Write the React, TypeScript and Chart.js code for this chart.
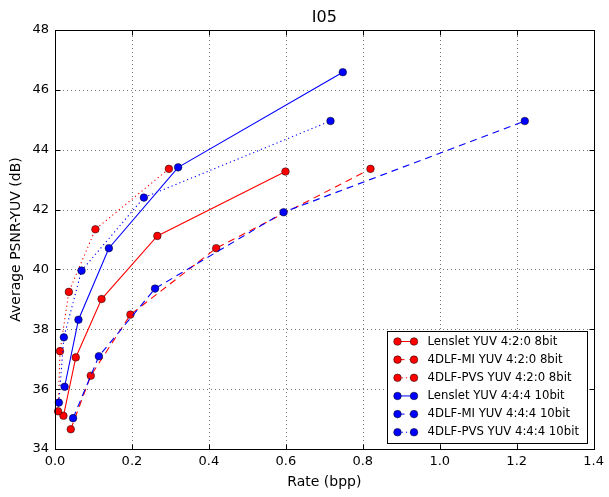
import React, { useEffect, useRef } from "react";
import { Chart, registerables } from "chart.js";

Chart.register(...registerables);

const FONT = "'DejaVu Sans', 'Noto Sans', sans-serif";

const chartTitle = "I05";
const xAxisTitle = "Rate (bpp)";
const yAxisTitle = "Average PSNR-YUV (dB)";

const xTicks = [0, 0.2, 0.4, 0.6, 0.8, 1.0, 1.2, 1.4];
const yTicks = [34, 36, 38, 40, 42, 44, 46, 48];

const seriesLabels = [
  "Lenslet YUV 4:2:0 8bit",
  "4DLF-MI YUV 4:2:0 8bit",
  "4DLF-PVS YUV 4:2:0 8bit",
  "Lenslet YUV 4:4:4 10bit",
  "4DLF-MI YUV 4:4:4 10bit",
  "4DLF-PVS YUV 4:4:4 10bit",
];

const lensletRate420 = [0.022, 0.054, 0.121, 0.266, 0.599];
const lensletPsnr420 = [35.11, 37.06, 39.01, 41.12, 43.27];
const miRate420 = [0.041, 0.093, 0.196, 0.419, 0.82];
const miPsnr420 = [34.66, 36.45, 38.49, 40.71, 43.36];
const pvsRate420 = [0.008, 0.013, 0.036, 0.105, 0.296];
const pvsPsnr420 = [35.26, 37.27, 39.25, 41.34, 43.36];
const lensletRate444 = [0.025, 0.061, 0.14, 0.32, 0.748];
const lensletPsnr444 = [36.08, 38.32, 40.71, 43.41, 46.59];
const miRate444 = [0.047, 0.114, 0.26, 0.594, 1.221];
const miPsnr444 = [35.03, 37.1, 39.36, 41.91, 44.96];
const pvsRate444 = [0.01, 0.023, 0.069, 0.231, 0.716];
const pvsPsnr444 = [35.55, 37.73, 39.96, 42.4, 44.96];

const RED = "#ff0000";
const BLUE = "#0000ff";
const SOLID: number[] = [];
const DASHED = [7, 5];
const DOTTED = [1.2, 3];

const seriesRates = [lensletRate420, miRate420, pvsRate420, lensletRate444, miRate444, pvsRate444];
const seriesPsnr = [lensletPsnr420, miPsnr420, pvsPsnr420, lensletPsnr444, miPsnr444, pvsPsnr444];
const seriesColors = [RED, RED, RED, BLUE, BLUE, BLUE];
const seriesDashes = [SOLID, DASHED, DOTTED, SOLID, DASHED, DOTTED];

const MARKER_R = 3.8;
const MARKER_EDGE = "rgba(0,0,0,0.85)";

function drawMarker(ctx: CanvasRenderingContext2D, x: number, y: number, color: string) {
  ctx.save();
  ctx.setLineDash([]);
  ctx.beginPath();
  ctx.arc(x, y, MARKER_R, 0, Math.PI * 2);
  ctx.fillStyle = color;
  ctx.fill();
  ctx.lineWidth = 0.6;
  ctx.strokeStyle = MARKER_EDGE;
  ctx.stroke();
  ctx.restore();
}

const framePlugin = {
  id: "mplFrame",
  beforeDatasetsDraw(chart: any) {
    const { ctx, chartArea } = chart;
    const xs = chart.scales.x;
    const ys = chart.scales.y;
    ctx.save();
    ctx.strokeStyle = "rgba(0,0,0,0.55)";
    ctx.lineWidth = 1;
    ctx.setLineDash([1, 3]);
    xTicks.forEach((v) => {
      const px = Math.round(xs.getPixelForValue(v)) + 0.5;
      ctx.beginPath();
      ctx.moveTo(px, chartArea.bottom);
      ctx.lineTo(px, chartArea.top);
      ctx.stroke();
    });
    yTicks.forEach((v) => {
      const py = Math.round(ys.getPixelForValue(v)) + 0.5;
      ctx.beginPath();
      ctx.moveTo(chartArea.left, py);
      ctx.lineTo(chartArea.right, py);
      ctx.stroke();
    });
    ctx.restore();
  },
  afterDatasetsDraw(chart: any) {
    const { ctx, chartArea } = chart;
    const xs = chart.scales.x;
    const ys = chart.scales.y;
    const L = Math.round(chartArea.left) + 0.5;
    const R = Math.round(chartArea.right) + 0.5;
    const T = Math.round(chartArea.top) + 0.5;
    const B = Math.round(chartArea.bottom) + 0.5;
    ctx.save();
    ctx.setLineDash([]);
    ctx.strokeStyle = "#000";
    ctx.lineWidth = 1;
    ctx.strokeRect(L, T, R - L, B - T);
    const tl = 5;
    xTicks.forEach((v) => {
      const px = Math.round(xs.getPixelForValue(v)) + 0.5;
      ctx.beginPath();
      ctx.moveTo(px, B);
      ctx.lineTo(px, B - tl);
      ctx.moveTo(px, T);
      ctx.lineTo(px, T + tl);
      ctx.stroke();
    });
    yTicks.forEach((v) => {
      const py = Math.round(ys.getPixelForValue(v)) + 0.5;
      ctx.beginPath();
      ctx.moveTo(L, py);
      ctx.lineTo(L + tl, py);
      ctx.moveTo(R, py);
      ctx.lineTo(R - tl, py);
      ctx.stroke();
    });

    // Title
    ctx.fillStyle = "#000";
    ctx.font = `16px ${FONT}`;
    ctx.textAlign = "center";
    ctx.textBaseline = "middle";
    ctx.fillText(chartTitle, (chartArea.left + chartArea.right) / 2, 18);

    // Legend
    const lw = 200;
    const lh = 112;
    const lx = Math.round(chartArea.right - 7 - lw) + 0.5;
    const ly = Math.round(chartArea.bottom - 6 - lh) + 0.5;
    ctx.fillStyle = "#fff";
    ctx.fillRect(lx, ly, lw, lh);
    ctx.strokeStyle = "#000";
    ctx.lineWidth = 1;
    ctx.strokeRect(lx, ly, lw, lh);
    ctx.font = `11.7px ${FONT}`;
    ctx.textAlign = "left";
    ctx.textBaseline = "middle";
    seriesLabels.forEach((label, i) => {
      const ry = ly + 10 + i * 18.15;
      const x1 = lx + 10;
      const x2 = lx + 26.5;
      ctx.save();
      ctx.strokeStyle = seriesColors[i];
      ctx.lineWidth = 1;
      ctx.setLineDash(seriesDashes[i]);
      ctx.beginPath();
      ctx.moveTo(x1, ry);
      ctx.lineTo(x2, ry);
      ctx.stroke();
      ctx.restore();
      drawMarker(ctx, x1, ry, seriesColors[i]);
      drawMarker(ctx, x2, ry, seriesColors[i]);
      ctx.fillStyle = "#000";
      ctx.fillText(label, lx + 40, ry);
    });
    ctx.restore();
  },
};

export default function App() {
  const canvasRef = useRef<HTMLCanvasElement | null>(null);

  useEffect(() => {
    document.body.style.margin = "0";
    const canvas = canvasRef.current;
    if (!canvas) return;

    const datasets = seriesLabels.map((label, i) => ({
      label,
      data: seriesRates[i].map((x, j) => ({ x, y: seriesPsnr[i][j] })),
      borderColor: seriesColors[i],
      backgroundColor: seriesColors[i],
      borderWidth: 1.1,
      borderDash: seriesDashes[i],
      pointRadius: MARKER_R,
      pointHoverRadius: MARKER_R,
      pointBackgroundColor: seriesColors[i],
      pointBorderColor: MARKER_EDGE,
      pointBorderWidth: 0.6,
      showLine: true,
      fill: false,
      tension: 0,
      order: seriesLabels.length - i,
      clip: 6,
    }));

    const chart = new Chart(canvas, {
      type: "scatter",
      data: { datasets },
      options: {
        animation: false,
        responsive: false,
        devicePixelRatio: 1,
        layout: { padding: { top: 30, right: 13, left: 0, bottom: 0 } },
        plugins: {
          legend: { display: false },
          title: { display: false },
          tooltip: { enabled: false },
        },
        scales: {
          x: {
            type: "linear",
            min: 0,
            max: 1.4,
            afterBuildTicks: (s: any) => {
              s.ticks = xTicks.map((v) => ({ value: v }));
            },
            afterFit: (s: any) => {
              s.height = 48;
            },
            grid: { display: false, drawTicks: false, tickLength: 0 },
            border: { display: false },
            ticks: {
              autoSkip: false,
              maxRotation: 0,
              minRotation: 0,
              padding: 5,
              color: "#000",
              font: { family: FONT, size: 13 },
              callback: (v: any) => Number(v).toFixed(1),
            },
            title: {
              display: true,
              text: xAxisTitle,
              color: "#000",
              font: { family: FONT, size: 14 },
              padding: { top: 0, bottom: 6 },
            },
          },
          y: {
            type: "linear",
            min: 34,
            max: 48,
            afterBuildTicks: (s: any) => {
              s.ticks = yTicks.map((v) => ({ value: v }));
            },
            afterFit: (s: any) => {
              s.width = 55;
            },
            grid: { display: false, drawTicks: false, tickLength: 0 },
            border: { display: false },
            ticks: {
              autoSkip: false,
              padding: 6,
              color: "#000",
              font: { family: FONT, size: 13 },
              callback: (v: any) => String(v),
            },
            title: {
              display: true,
              text: yAxisTitle,
              color: "#000",
              font: { family: FONT, size: 14 },
              padding: { top: 7.5, bottom: 0 },
            },
          },
        },
      },
      plugins: [framePlugin],
    } as any);

    return () => {
      chart.destroy();
    };
  }, []);

  return (
    <div style={{ width: 609, height: 497 }}>
      <canvas ref={canvasRef} width={609} height={497} style={{ display: "block" }} />
    </div>
  );
}
